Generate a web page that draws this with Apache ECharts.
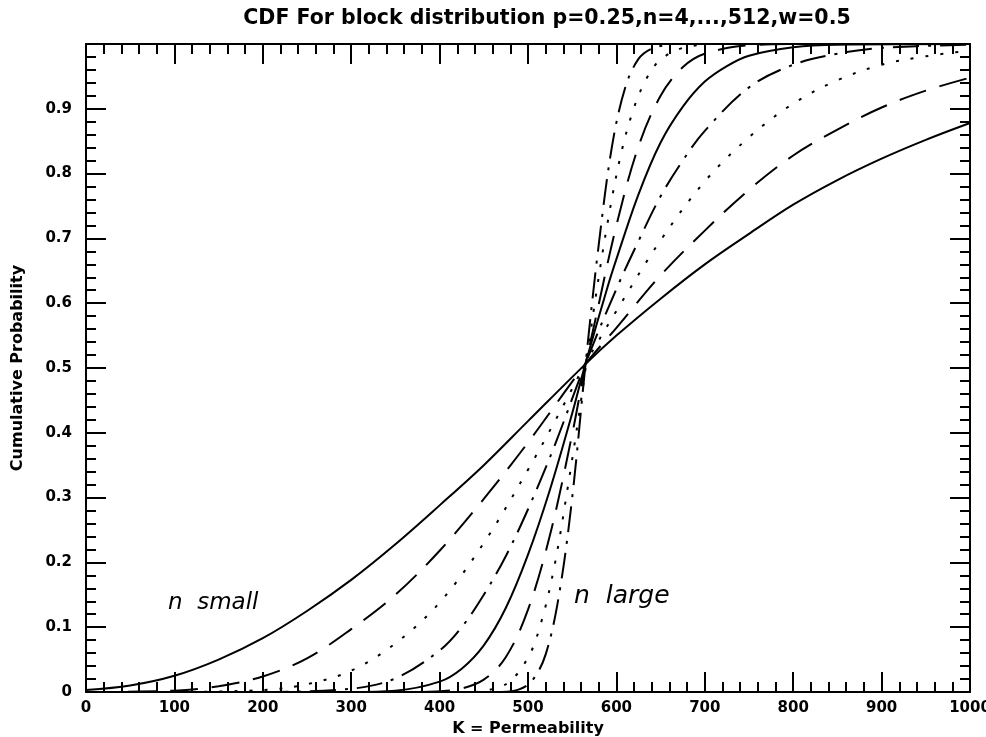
<!DOCTYPE html>
<html><head><meta charset="utf-8">
<script src="https://cdn.jsdelivr.net/npm/echarts@6/dist/echarts.min.js"></script>
<style>html,body{margin:0;padding:0;background:#fff;overflow:hidden;width:986px;height:737px}#c{position:absolute;left:0;top:0;width:986px;height:737px}</style>
</head><body><div id="c"></div>
<script>
// ---- data ----
const titleText = 'CDF For block distribution p=0.25,n=4,...,512,w=0.5';
const xName = 'K = Permeability';
const yName = 'Cumulative Probability';
const xTicks = [0, 100, 200, 300, 400, 500, 600, 700, 800, 900, 1000];
const yTicks = [0, 0.1, 0.2, 0.3, 0.4, 0.5, 0.6, 0.7, 0.8, 0.9];
const blockSizes = [4, 8, 16, 32, 64, 128, 256, 512];

const k_n4 = [0, 50, 100, 150, 200, 250, 300, 350, 400, 450, 500, 565, 600, 650, 700, 750, 800, 850, 900, 950, 1000];
const p_n4 = [0.003, 0.01, 0.025, 0.05, 0.083, 0.125, 0.173, 0.228, 0.288, 0.35, 0.418, 0.506, 0.55, 0.607, 0.66, 0.707, 0.752, 0.79, 0.823, 0.852, 0.878];

const k_n8 = [0, 100, 150, 200, 250, 300, 350, 400, 450, 500, 565, 600, 650, 700, 750, 800, 850, 900, 950, 1000];
const p_n8 = [0.0, 0.002, 0.009, 0.024, 0.052, 0.097, 0.15, 0.218, 0.298, 0.385, 0.506, 0.562, 0.643, 0.712, 0.775, 0.828, 0.868, 0.902, 0.928, 0.948];

const k_n16 = [100, 200, 250, 300, 350, 400, 450, 500, 540, 565, 600, 650, 700, 750, 800, 850, 900, 950, 1000];
const p_n16 = [0.0, 0.003, 0.012, 0.033, 0.075, 0.138, 0.23, 0.343, 0.442, 0.507, 0.588, 0.697, 0.788, 0.856, 0.908, 0.944, 0.968, 0.981, 0.99];

const k_n32 = [200, 300, 350, 400, 425, 450, 475, 500, 530, 565, 600, 625, 650, 675, 700, 750, 800, 850, 900, 1000];
const p_n32 = [0.0, 0.005, 0.021, 0.064, 0.1, 0.15, 0.21, 0.282, 0.38, 0.507, 0.622, 0.696, 0.765, 0.82, 0.866, 0.933, 0.968, 0.985, 0.994, 0.999];

const k_n64 = [300, 350, 400, 425, 450, 475, 500, 525, 550, 565, 590, 600, 625, 650, 675, 700, 725, 750, 800, 850, 1000];
const p_n64 = [0.0, 0.002, 0.016, 0.036, 0.072, 0.13, 0.212, 0.313, 0.43, 0.507, 0.625, 0.668, 0.768, 0.848, 0.903, 0.942, 0.966, 0.982, 0.995, 0.999, 1.0];

const k_n128 = [380, 420, 450, 475, 500, 525, 550, 565, 575, 600, 625, 650, 675, 700, 750, 800];
const p_n128 = [0.0, 0.004, 0.019, 0.054, 0.127, 0.243, 0.398, 0.505, 0.567, 0.72, 0.842, 0.92, 0.964, 0.985, 0.998, 1.0];

const k_n256 = [440, 475, 500, 515, 530, 545, 560, 575, 590, 605, 620, 635, 650, 675, 700];
const p_n256 = [0.0, 0.012, 0.053, 0.108, 0.195, 0.316, 0.45, 0.595, 0.724, 0.829, 0.902, 0.949, 0.976, 0.994, 0.999];

const k_n512 = [470, 490, 505, 520, 535, 550, 565, 580, 595, 610, 625, 640, 660];
const p_n512 = [0.0, 0.004, 0.018, 0.058, 0.149, 0.30, 0.505, 0.69, 0.842, 0.933, 0.977, 0.993, 0.999];

// ---- styling ----
const curvesK = [k_n4, k_n8, k_n16, k_n32, k_n64, k_n128, k_n256, k_n512];
const curvesP = [p_n4, p_n8, p_n16, p_n32, p_n64, p_n128, p_n256, p_n512];
const dashSolid = 'solid', dashLong = [28, 14], dashDot = [3, 12], dashDashDot = [26, 9, 3, 9];
const styles = [dashSolid, dashLong, dashDot, dashDashDot, dashSolid, dashLong, dashDot, dashDashDot];

const labelFont = {fontFamily: 'DejaVu Sans', fontWeight: 'bold', fontSize: 15, color: '#000'};
const lineBlack = {color: '#000', width: 2};

function xAxisBase(pos, showLabel) {
  return {
    type: 'value', position: pos, min: xTicks[0], max: xTicks[xTicks.length - 1],
    interval: xTicks[1] - xTicks[0],
    axisLine: {show: true, onZero: false, lineStyle: lineBlack},
    axisTick: {show: true, inside: true, length: 20, lineStyle: lineBlack},
    minorTick: {show: true, splitNumber: 5, length: 10, lineStyle: lineBlack},
    splitLine: {show: false}, minorSplitLine: {show: false},
    axisLabel: Object.assign({
      show: showLabel, margin: 9, hideOverlap: false,
      formatter: function (v) {
        const i = xTicks.findIndex(t => Math.abs(t - v) < 1e-6);
        return i < 0 ? '' : String(xTicks[i]);
      }
    }, labelFont)
  };
}
function yAxisBase(pos, showLabel) {
  return {
    type: 'value', position: pos, min: 0, max: 1, interval: 0.1,
    axisLine: {show: true, onZero: false, lineStyle: lineBlack},
    axisTick: {show: true, inside: true, length: 20, lineStyle: lineBlack},
    minorTick: {show: true, splitNumber: 5, length: 10, lineStyle: lineBlack},
    splitLine: {show: false}, minorSplitLine: {show: false},
    axisLabel: Object.assign({
      show: showLabel, margin: 14,
      formatter: function (v) {
        const i = yTicks.findIndex(t => Math.abs(t - v) < 1e-6);
        return i < 0 ? '' : String(yTicks[i]);
      }
    }, labelFont)
  };
}

const xa0 = xAxisBase('bottom', true);
xa0.name = xName; xa0.nameLocation = 'middle'; xa0.nameGap = 26;
xa0.nameTextStyle = {fontFamily: 'DejaVu Sans', fontWeight: 'bold', fontSize: 16, color: '#000'};
const ya0 = yAxisBase('left', true);
ya0.name = yName; ya0.nameLocation = 'middle'; ya0.nameGap = 60;
ya0.nameTextStyle = {fontFamily: 'DejaVu Sans', fontWeight: 'bold', fontSize: 16, color: '#000'};

const series = curvesK.map((ks, i) => ({
  type: 'line',
  name: 'n=' + blockSizes[i],
  data: ks.map((k, j) => [k, curvesP[i][j]]),
  showSymbol: false, symbol: 'none',
  smooth: 0.35,
  lineStyle: {color: '#000', width: 2, type: styles[i], cap: 'butt'},
  silent: true, clip: true
}));

const chart = echarts.init(document.getElementById('c'), null, {renderer: 'canvas', width: 986, height: 737});
chart.setOption({
  animation: false,
  backgroundColor: '#fff',
  title: {
    text: titleText, left: 542, top: 3, textAlign: 'center',
    textStyle: {fontFamily: 'DejaVu Sans', fontWeight: 'bold', fontSize: 20.5, color: '#000'}
  },
  grid: {left: 86, right: 16, top: 44, bottom: 45, containLabel: false, outerBoundsMode: 'none'},
  xAxis: [xa0, xAxisBase('top', false)],
  yAxis: [ya0, yAxisBase('right', false)],
  graphic: [
    {type: 'text', left: 168, top: 592, style: {text: 'n  small', fontFamily: 'DejaVu Sans', fontStyle: 'italic', fontSize: 23, fill: '#000'}},
    {type: 'text', left: 574, top: 584, style: {text: 'n  large', fontFamily: 'DejaVu Sans', fontStyle: 'italic', fontSize: 25, fill: '#000'}}
  ],
  series: series
});
</script></body></html>
